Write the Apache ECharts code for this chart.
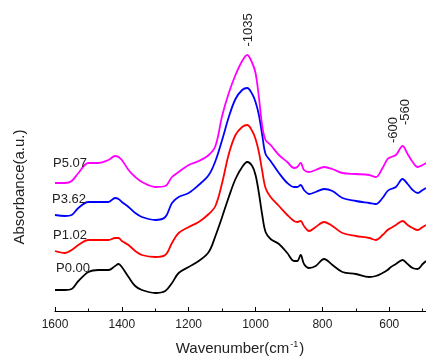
<!DOCTYPE html>
<html>
<head>
<meta charset="utf-8">
<script src="https://cdn.jsdelivr.net/npm/echarts@6/dist/echarts.min.js"></script>
<style>html,body{margin:0;padding:0;background:#fff;}#c{width:426px;height:358px;}</style>
</head>
<body>
<div id="c"></div>
<script>
const wavenumbers = [1600,1570,1550,1530,1500,1470,1440,1420,1410,1400,1380,1360,1340,1300,1270,1250,1230,1200,1170,1140,1120,1100,1080,1060,1040,1025,1010,1000,990,980,970,955,930,905,885,875,865,855,840,820,795,770,740,700,660,640,620,605,595,580,560,545,530,515,500,490];
const p000 = [21,21,22,30,39,41,41,45,47,44,34,25,21,18,20,28,38,44,50,59,75,94,114,132,144,149,145,136,118,96,79,72,67,58,50,50,56,47,43,45,52,46,39,37,34,35,38,41,44,47,51,47,43,42,47,50];
const p102 = [60,58,61,66,71,71,71,73,73,70,66,60,56,54,56,68,78,84,89,97,105,128,157,176,184,186,180,172,159,140,123,114,105,96,90,89,90,85,80,84,89,85,78,75,73,71,76,81,83,86,90,86,83,81,84,86];
const p362 = [96,95,96,103,109,109,109,113,112,109,104,98,94,91,94,108,114,118,126,136,150,171,194,212,221,223,217,209,196,176,157,150,138,128,124,124,126,121,117,119,122,120,113,110,108,107,113,120,122,124,132,127,121,118,121,123];
const p507 = [128,128,130,138,148,148,151,155,154,151,141,134,129,124,125,134,139,146,150,156,165,195,218,236,250,256,248,238,214,185,171,166,156,149,143,144,148,141,139,141,144,142,138,137,136,134,143,152,154,156,165,157,149,144,146,148];
const seriesNames = ['P0.00','P1.02','P3.62','P5.07'];
const seriesColors = ['#000000','#ff0000','#0000ff','#ff00ff'];
const seriesValues = [p000,p102,p362,p507];
const labelCoords = [[1546,43],[1555,76],[1558,112],[1555,148]];
const peakLabels = ['-1035','-600','-560'];
const peakCoords = [[1022,281],[588,181],[552,199]];
const majorTicks = [1600,1400,1200,1000,800,600];
const minorTicks = [1500,1300,1100,900,700,500];

const chart = echarts.init(document.getElementById('c'), null, {renderer:'canvas'});
const series = seriesValues.map((vals, i) => ({
  type: 'line',
  name: seriesNames[i],
  data: wavenumbers.map((w, j) => [w, vals[j]]),
  showSymbol: false,
  smooth: 0.35,
  lineStyle: {color: seriesColors[i], width: 1.8},
  itemStyle: {color: seriesColors[i]},
  markPoint: {
    symbol: 'circle', symbolSize: 1,
    itemStyle: {color: 'rgba(0,0,0,0)'},
    label: {show: true, position: 'inside', color: '#222', fontSize: 13, fontFamily: 'Liberation Sans, Arial', formatter: p => p.name},
    data: [{name: seriesNames[i], coord: labelCoords[i]}].concat(
      i === 3 ? peakLabels.map((t, k) => ({name: t, coord: peakCoords[k], label: {rotate: 90}})) : []
    )
  }
}));
series.push({type:'line', xAxisIndex:1, data:[], showSymbol:false});

chart.setOption({
  animation: false,
  backgroundColor: '#fff',
  grid: {left: 55, right: 0, top: 0, bottom: 47, containLabel: false},
  xAxis: [{
    type: 'value', inverse: true, min: 490, max: 1600,
    axisLine: {show: true, lineStyle: {color: '#000', width: 1}},
    axisTick: {show: true, inside: true, length: 4, customValues: majorTicks, lineStyle: {color: '#000'}},
    axisLabel: {show: true, customValues: majorTicks, formatter: v => String(v), color: '#222', fontSize: 12, fontFamily: 'Liberation Sans, Arial', margin: 8},
    splitLine: {show: false}
  }, {
    type: 'value', inverse: true, min: 490, max: 1600, position: 'bottom',
    axisLine: {show: false},
    axisTick: {show: true, inside: true, length: 2.5, customValues: minorTicks, lineStyle: {color: '#000'}},
    axisLabel: {show: false},
    splitLine: {show: false}
  }],
  yAxis: {type: 'value', min: 0, max: 311, show: false},
  series: series,
  graphic: [
    {type: 'text', x: 20, y: 187, rotation: Math.PI/2, style: {text: 'Absorbance(a.u.)', fill: '#222', font: '15px "Liberation Sans", Arial', align: 'center', verticalAlign: 'middle'}},
    {type: 'text', x: 240, y: 349, style: {
      text: '{a|Wavenumber(cm}{s|-1}{a|)}', align: 'center', verticalAlign: 'middle',
      rich: {a: {fontSize: 15, fontFamily: 'Liberation Sans, Arial', fill: '#222', color: '#222'}, s: {fontSize: 9, fontFamily: 'Liberation Sans, Arial', color: '#222', fill: '#222', verticalAlign: 'top', padding: [0,1,8,1]}}
    }}
  ]
});
</script>
</body>
</html>
